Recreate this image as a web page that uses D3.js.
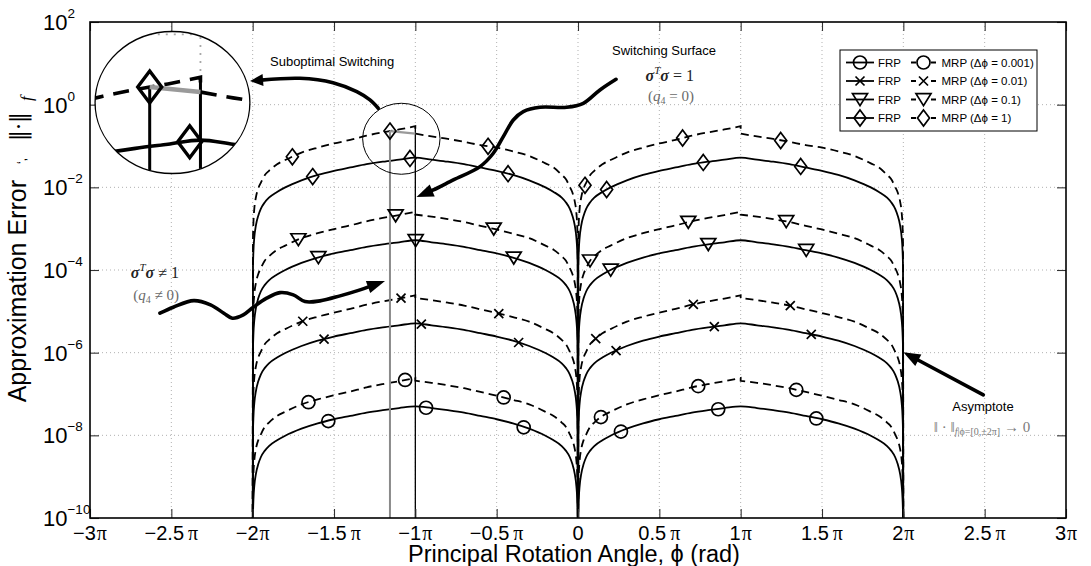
<!DOCTYPE html>
<html>
<head>
<meta charset="utf-8">
<script src="https://cdn.jsdelivr.net/npm/d3@7"></script>
<style>
  body { margin: 0; background: #fff; }
  svg { display: block; font-family: "Liberation Sans", Arial, Helvetica, sans-serif; }
</style>
</head>
<body>
<svg id="chart" width="1091" height="566"></svg>
<script>
// ---- axis ticks (phi in multiples of pi) ----
const xTicks = [-3, -2.5, -2, -1.5, -1, -0.5, 0, 0.5, 1, 1.5, 2, 2.5, 3];
const xTickLabels = ["−3", "−2.5", "−2", "−1.5", "−1", "−0.5", "0", "0.5", "1", "1.5", "2", "2.5", "3"];
const yTicks = [1e2, 1e0, 1e-2, 1e-4, 1e-6, 1e-8, 1e-10];
const yTickExps = ["2", "0", "−2", "−4", "−6", "−8", "−10"];

// start of each 2*pi period that carries data
const periodStarts = [-2, 0];

// ---- FRP error over one period, phase in multiples of pi ----
const phaseFull = [0, 0.002, 0.005, 0.01, 0.02, 0.035, 0.05, 0.075, 0.1, 0.15, 0.2, 0.3, 0.4, 0.5, 0.6, 0.7, 0.8, 0.9, 1.0,
  1.1, 1.2, 1.3, 1.4, 1.5, 1.6, 1.7, 1.8, 1.85, 1.9, 1.925, 1.95, 1.965, 1.98, 1.99, 1.995, 1.998, 2.0];
const frp1 = [1e-13, 1.20e-4, 3.02e-4, 6.03e-4, 1.20e-3, 2.09e-3, 3.02e-3, 4.37e-3, 5.62e-3, 7.76e-3, 1.00e-2, 1.48e-2, 2.00e-2, 2.51e-2, 3.02e-2, 3.63e-2, 4.17e-2, 4.68e-2, 5.25e-2,
  4.68e-2, 4.17e-2, 3.63e-2, 3.02e-2, 2.51e-2, 2.00e-2, 1.48e-2, 1.00e-2, 7.76e-3, 5.62e-3, 4.37e-3, 3.02e-3, 2.09e-3, 1.20e-3, 6.03e-4, 3.02e-4, 1.20e-4, 1e-13];
const frp01 = [1e-13, 1.20e-6, 3.02e-6, 6.03e-6, 1.20e-5, 2.09e-5, 3.02e-5, 4.37e-5, 5.62e-5, 7.76e-5, 1.00e-4, 1.48e-4, 2.00e-4, 2.51e-4, 3.02e-4, 3.63e-4, 4.17e-4, 4.68e-4, 5.25e-4,
  4.68e-4, 4.17e-4, 3.63e-4, 3.02e-4, 2.51e-4, 2.00e-4, 1.48e-4, 1.00e-4, 7.76e-5, 5.62e-5, 4.37e-5, 3.02e-5, 2.09e-5, 1.20e-5, 6.03e-6, 3.02e-6, 1.20e-6, 1e-13];
const frp001 = [1e-13, 1.18e-8, 2.96e-8, 5.90e-8, 1.18e-7, 2.05e-7, 2.96e-7, 4.28e-7, 5.50e-7, 7.60e-7, 9.80e-7, 1.45e-6, 1.96e-6, 2.46e-6, 2.96e-6, 3.56e-6, 4.09e-6, 4.59e-6, 5.13e-6,
  4.59e-6, 4.09e-6, 3.56e-6, 2.96e-6, 2.46e-6, 1.96e-6, 1.45e-6, 9.80e-7, 7.60e-7, 5.50e-7, 4.28e-7, 2.96e-7, 2.05e-7, 1.18e-7, 5.90e-8, 2.96e-8, 1.18e-8, 1e-13];
const frp0001 = [1e-13, 1.17e-10, 2.95e-10, 5.90e-10, 1.17e-9, 2.04e-9, 2.95e-9, 4.27e-9, 5.50e-9, 7.60e-9, 9.80e-9, 1.45e-8, 1.95e-8, 2.45e-8, 2.95e-8, 3.55e-8, 4.07e-8, 4.57e-8, 5.01e-8,
  4.57e-8, 4.07e-8, 3.55e-8, 2.95e-8, 2.45e-8, 1.95e-8, 1.45e-8, 9.80e-9, 7.60e-9, 5.50e-9, 4.27e-9, 2.95e-9, 2.04e-9, 1.17e-9, 5.90e-10, 2.95e-10, 1.17e-10, 1e-13];

// ---- MRP error: rising branch up to the switching surface, falling branch after it ----
const phaseRise = [0, 0.002, 0.005, 0.01, 0.02, 0.035, 0.05, 0.075, 0.1, 0.15, 0.2, 0.3, 0.4, 0.5, 0.6, 0.7, 0.8, 0.9, 1.0];
const phaseFall = [1.0, 1.1, 1.2, 1.3, 1.4, 1.5, 1.6, 1.7, 1.8, 1.85, 1.9, 1.925, 1.95, 1.965, 1.98, 1.99, 1.995, 1.998, 2.0];
const mrp1Rise = [1e-13, 6.03e-4, 1.51e-3, 3.02e-3, 5.75e-3, 9.55e-3, 1.29e-2, 2.00e-2, 2.51e-2, 3.63e-2, 4.57e-2, 6.92e-2, 9.12e-2, 1.15e-1, 1.41e-1, 1.78e-1, 2.14e-1, 2.51e-1, 3.02e-1];
const mrp1Fall = [2.00e-1, 1.70e-1, 1.48e-1, 1.26e-1, 1.05e-1, 9.12e-2, 7.41e-2, 5.75e-2, 3.80e-2, 3.02e-2, 2.00e-2, 1.58e-2, 1.02e-2, 7.59e-3, 4.57e-3, 2.40e-3, 1.20e-3, 4.79e-4, 1e-13];
const mrp01Rise = [1e-13, 5.13e-6, 1.29e-5, 2.57e-5, 4.90e-5, 8.13e-5, 1.10e-4, 1.70e-4, 2.14e-4, 3.09e-4, 3.89e-4, 5.89e-4, 7.76e-4, 9.77e-4, 1.20e-3, 1.51e-3, 1.82e-3, 2.14e-3, 2.57e-3];
const mrp01Fall = [2.19e-3, 1.95e-3, 1.70e-3, 1.45e-3, 1.17e-3, 9.55e-4, 7.59e-4, 5.89e-4, 3.89e-4, 3.09e-4, 2.14e-4, 1.70e-4, 1.10e-4, 8.13e-5, 4.90e-5, 2.57e-5, 1.29e-5, 5.13e-6, 1e-13];
const mrp001Rise = [1e-13, 4.90e-8, 1.23e-7, 2.45e-7, 4.68e-7, 7.76e-7, 1.05e-6, 1.62e-6, 2.04e-6, 2.95e-6, 3.72e-6, 5.62e-6, 7.41e-6, 9.33e-6, 1.15e-5, 1.45e-5, 1.74e-5, 2.04e-5, 2.45e-5];
const mrp001Fall = [2.09e-5, 1.86e-5, 1.62e-5, 1.38e-5, 1.12e-5, 9.12e-6, 7.24e-6, 5.62e-6, 3.72e-6, 2.95e-6, 2.04e-6, 1.62e-6, 1.05e-6, 7.76e-7, 4.68e-7, 2.45e-7, 1.23e-7, 4.90e-8, 1e-13];
const mrp0001Rise = [1e-13, 4.90e-10, 1.23e-9, 2.45e-9, 4.68e-9, 7.76e-9, 1.05e-8, 1.62e-8, 2.04e-8, 2.95e-8, 3.72e-8, 5.62e-8, 7.41e-8, 9.33e-8, 1.15e-7, 1.45e-7, 1.74e-7, 2.04e-7, 2.45e-7];
const mrp0001Fall = [2.09e-7, 1.86e-7, 1.62e-7, 1.38e-7, 1.12e-7, 9.12e-8, 7.24e-8, 5.62e-8, 3.72e-8, 2.95e-8, 2.04e-8, 1.62e-8, 1.05e-8, 7.76e-9, 4.68e-9, 2.45e-9, 1.23e-9, 4.90e-10, 1e-13];

// ---- marker samples (phi in multiples of pi) ----
const frp1MarkPhi = [-1.631, -1.033, -0.430, 0.176, 0.770, 1.369];
const frp1MarkVal = [1.82e-2, 5.01e-2, 2.14e-2, 8.85e-3, 4.00e-2, 3.20e-2];
const frp01MarkPhi = [-1.596, -0.998, -0.395, 0.201, 0.801, 1.403];
const frp01MarkVal = [2.01e-4, 5.20e-4, 1.97e-4, 1.00e-4, 4.17e-4, 3.01e-4];
const frp001MarkPhi = [-1.561, -0.963, -0.365, 0.234, 0.838, 1.434];
const frp001MarkVal = [2.13e-6, 4.91e-6, 1.76e-6, 1.12e-6, 4.26e-6, 2.77e-6];
const frp0001MarkPhi = [-1.535, -0.934, -0.334, 0.264, 0.862, 1.465];
const frp0001MarkVal = [2.21e-8, 4.65e-8, 1.56e-8, 1.23e-8, 4.28e-8, 2.56e-8];
const mrp1MarkPhi = [-1.756, -1.156, -0.553, 0.043, 0.643, 1.246];
const mrp1MarkVal = [5.48e-2, 2.30e-1, 9.82e-2, 1.12e-2, 1.56e-1, 1.36e-1];
const mrp01MarkPhi = [-1.719, -1.121, -0.518, 0.074, 0.678, 1.280];
const mrp01MarkVal = [5.45e-4, 2.07e-3, 9.91e-4, 1.67e-4, 1.44e-3, 1.49e-3];
const mrp001MarkPhi = [-1.692, -1.088, -0.487, 0.109, 0.709, 1.305];
const mrp001MarkVal = [5.75e-6, 2.09e-5, 8.85e-6, 2.18e-6, 1.47e-5, 1.37e-5];
const mrp0001MarkPhi = [-1.657, -1.063, -0.457, 0.141, 0.739, 1.342];
const mrp0001MarkVal = [6.34e-8, 2.19e-7, 8.26e-8, 2.76e-8, 1.55e-7, 1.26e-7];

// ---- switching annotation (MRP, delta phi = 1) ----
const switchEarlyPhi = -1.156, switchEarlyVal = 2.30e-1;   // where the switch actually happened
const switchSurfPhi = -1, switchSurfTop = 3.02e-1, switchSurfAfter = 2.00e-1;

// ---- legend text ----
const deltaLabels = ["0.001", "0.01", "0.1", "1"];
const legendShapes = ["circle", "cross", "triangle", "diamond"];

// ---- annotation paths: [phi/pi, log10 error] ----
const arrowInset = [[-1.228, -0.087], [-1.279, 0.114], [-1.360, 0.314], [-1.506, 0.532], [-1.709, 0.638], [-1.936, 0.597], [-2.016, 0.573]];
const arrowSurface = [[0.2336, 0.614], [0.135, 0.356], [0.0326, 0.034], [-0.0695, -0.063], [-0.2336, -0.063], [-0.3363, -0.169],
  [-0.3977, -0.370], [-0.4592, -0.774], [-0.5207, -1.175], [-0.6024, -1.499], [-0.7666, -1.821], [-0.8895, -2.063], [-0.9928, -2.232]];
const arrowOffSurface = [[-2.570, -5.045], [-2.488, -4.900], [-2.3615, -4.740], [-2.259, -4.844], [-2.177, -5.045], [-2.1252, -5.166],
  [-2.0576, -5.086], [-1.996, -4.900], [-1.914, -4.682], [-1.832, -4.547], [-1.750, -4.602], [-1.678, -4.764], [-1.586, -4.747],
  [-1.463, -4.626], [-1.340, -4.481], [-1.1865, -4.264]];
const arrowAsymptote = [[2.4916, -7.021], [2.0, -5.988]];
const zoomSpot = [-1.086, -0.825];   // centre of the magnified region
const zoomInset = [-2.493, 0.053];   // centre of the magnified view
const zoomFactor = 2;

// ================= drawing =================
const plot = { left: 90, right: 1066, top: 22, bottom: 518 };
const x = d3.scaleLinear().domain([-3, 3]).range([plot.left, plot.right]);
const y = d3.scaleLog().domain([1e-10, 1e2]).range([plot.bottom, plot.top]);

const svg = d3.select("#chart");
const defs = svg.append("defs");
defs.append("clipPath").attr("id", "plotClip")
  .append("rect").attr("x", plot.left).attr("y", plot.top)
  .attr("width", plot.right - plot.left).attr("height", plot.bottom - plot.top);

const spot = [x(zoomSpot[0]), y(10 ** zoomSpot[1])];
const insetC = [x(zoomInset[0]), y(10 ** zoomInset[1])];
const spotRx = 38.7, spotRy = 35.5;
defs.append("clipPath").attr("id", "spotClip")
  .append("ellipse").attr("cx", spot[0]).attr("cy", spot[1]).attr("rx", spotRx).attr("ry", spotRy);

function drawGrid(g) {
  g.selectAll("line.gx").data(xTicks.slice(1, -1)).join("line").attr("class", "gx")
    .attr("x1", d => x(d)).attr("x2", d => x(d)).attr("y1", plot.top).attr("y2", plot.bottom);
  g.selectAll("line.gy").data(yTicks.slice(1, -1)).join("line").attr("class", "gy")
    .attr("x1", plot.left).attr("x2", plot.right).attr("y1", d => y(d)).attr("y2", d => y(d));
  g.selectAll("line").attr("stroke", "#a8a8a8").attr("stroke-width", 0.9).attr("stroke-dasharray", "1,3");
}

function markerShape(sel, shape) {
  if (shape === "circle") sel.append("circle").attr("r", 6.5);
  else if (shape === "cross") sel.append("path").attr("d", "M-4.5,-4.5L4.5,4.5M-4.5,4.5L4.5,-4.5");
  else if (shape === "triangle") sel.append("path").attr("d", "M-7.5,-5.8L7.5,-5.8L0,6.2Z");
  else sel.append("path").attr("d", "M0,-8L6,0L0,8L-6,0Z");
}

const frpSeries = [
  { vals: frp0001, shape: "circle", mPhi: frp0001MarkPhi, mVal: frp0001MarkVal },
  { vals: frp001, shape: "cross", mPhi: frp001MarkPhi, mVal: frp001MarkVal },
  { vals: frp01, shape: "triangle", mPhi: frp01MarkPhi, mVal: frp01MarkVal },
  { vals: frp1, shape: "diamond", mPhi: frp1MarkPhi, mVal: frp1MarkVal }
];
const mrpSeries = [
  { rise: mrp0001Rise, fall: mrp0001Fall, shape: "circle", mPhi: mrp0001MarkPhi, mVal: mrp0001MarkVal },
  { rise: mrp001Rise, fall: mrp001Fall, shape: "cross", mPhi: mrp001MarkPhi, mVal: mrp001MarkVal },
  { rise: mrp01Rise, fall: mrp01Fall, shape: "triangle", mPhi: mrp01MarkPhi, mVal: mrp01MarkVal },
  { rise: mrp1Rise, fall: mrp1Fall, shape: "diamond", mPhi: mrp1MarkPhi, mVal: mrp1MarkVal }
];

const curve = d3.line().x(d => x(d[0])).y(d => y(d[1])).curve(d3.curveMonotoneX);

function drawData(g, magnified) {
  frpSeries.forEach(s => {
    periodStarts.forEach(p0 => {
      g.append("path").attr("d", curve(phaseFull.map((p, i) => [p0 + p, s.vals[i]])))
        .attr("fill", "none").attr("stroke", "#000").attr("stroke-width", 1.8);
    });
  });
  mrpSeries.forEach(s => {
    periodStarts.forEach(p0 => {
      const a = curve(phaseRise.map((p, i) => [p0 + p, s.rise[i]]));
      const b = curve(phaseFall.map((p, i) => [p0 + p, s.fall[i]]));
      g.append("path").attr("d", a + b.replace(/^M/, "L"))
        .attr("fill", "none").attr("stroke", "#000").attr("stroke-width", 1.8)
        .attr("stroke-dasharray", "8,5");
    });
  });
  // switching lines
  g.append("line").attr("x1", x(switchEarlyPhi)).attr("x2", x(switchEarlyPhi))
    .attr("y1", y(1e-10)).attr("y2", y(switchEarlyVal))
    .attr("stroke", magnified ? "#000" : "#8a8a8a").attr("stroke-width", magnified ? 1.5 : 2);
  g.append("line").attr("x1", x(switchSurfPhi)).attr("x2", x(switchSurfPhi))
    .attr("y1", y(1e-10)).attr("y2", y(switchSurfTop))
    .attr("stroke", "#000").attr("stroke-width", magnified ? 1.5 : 1.3);
  g.append("line").attr("x1", x(switchEarlyPhi)).attr("x2", x(switchSurfPhi))
    .attr("y1", y(switchEarlyVal)).attr("y2", y(switchSurfAfter))
    .attr("stroke", "#9a9a9a").attr("stroke-width", 2.2);
  // markers
  frpSeries.concat(mrpSeries).forEach(s => {
    s.mPhi.forEach((p, i) => {
      const m = g.append("g").attr("transform", `translate(${x(p)},${y(s.mVal[i])})`)
        .attr("fill", "none").attr("stroke", "#000").attr("stroke-width", 1.7);
      markerShape(m, s.shape);
    });
  });
}

// grid + data
drawGrid(svg.append("g").attr("clip-path", "url(#plotClip)"));
drawData(svg.append("g").attr("clip-path", "url(#plotClip)"), false);

// axes box with inward ticks
const tk = 9;
const axB = svg.append("g").attr("transform", `translate(0,${plot.bottom})`)
  .call(d3.axisBottom(x).tickValues(xTicks).tickSize(-tk).tickSizeOuter(0).tickFormat(""));
const axT = svg.append("g").attr("transform", `translate(0,${plot.top})`)
  .call(d3.axisTop(x).tickValues(xTicks).tickSize(-tk).tickSizeOuter(0).tickFormat(""));
const axL = svg.append("g").attr("transform", `translate(${plot.left},0)`)
  .call(d3.axisLeft(y).tickValues(yTicks).tickSize(-tk).tickSizeOuter(0).tickFormat(""));
const axR = svg.append("g").attr("transform", `translate(${plot.right},0)`)
  .call(d3.axisRight(y).tickValues(yTicks).tickSize(-tk).tickSizeOuter(0).tickFormat(""));
[axB, axT, axL, axR].forEach(a => {
  a.select(".domain").remove();
  a.selectAll(".tick line").attr("stroke", "#333").attr("stroke-width", 1.1);
});
svg.append("rect").attr("x", plot.left).attr("y", plot.top)
  .attr("width", plot.right - plot.left).attr("height", plot.bottom - plot.top)
  .attr("fill", "none").attr("stroke", "#000").attr("stroke-width", 1.6);

// tick labels
const xl = svg.append("g").attr("font-size", 20).attr("fill", "#000");
xTicks.forEach((t, i) => {
  const tx = xl.append("text").attr("x", x(t)).attr("y", 540).attr("text-anchor", "middle");
  tx.append("tspan").text(xTickLabels[i]);
  if (t !== 0) tx.append("tspan").attr("font-family", "'Liberation Serif', serif")
    .attr("dx", (t % 1 !== 0) ? 4 : 1).text("π");
});
const yl = svg.append("g").attr("fill", "#000");
yTicks.forEach((t, i) => {
  const tx = yl.append("text").attr("x", 43).attr("y", y(t) + 8).attr("font-size", 22);
  tx.append("tspan").text("10");
  tx.append("tspan").attr("font-size", 13.5).attr("dy", -12).text(yTickExps[i]);
});

// axis titles
svg.append("text").attr("x", 574).attr("y", 562).attr("text-anchor", "middle")
  .attr("font-size", 23.5).text("Principal Rotation Angle, ϕ (rad)");
svg.append("text").attr("transform", "translate(26,180) rotate(-90)").attr("text-anchor", "end")
  .attr("font-size", 25).text("Approximation Error");
svg.append("text").attr("transform", "translate(26,164) rotate(-90)").attr("font-size", 12).text("‘,");
svg.append("text").attr("transform", "translate(26,141) rotate(-90)").attr("font-size", 22)
  .attr("font-family", "'DejaVu Serif', serif").text("‖·‖");
svg.append("text").attr("transform", "translate(32,101) rotate(-90)").attr("font-size", 17)
  .attr("font-family", "'Liberation Serif', serif").attr("font-style", "italic").text("f");

// legend
const lg = svg.append("g");
const lgBox = { x: 840, y: 50, w: 197, h: 81 };
lg.append("rect").attr("x", lgBox.x).attr("y", lgBox.y).attr("width", lgBox.w).attr("height", lgBox.h)
  .attr("fill", "#fff").attr("stroke", "#000").attr("stroke-width", 1);
deltaLabels.forEach((lab, i) => {
  const cy = lgBox.y + 12.5 + i * 18.5;
  lg.append("line").attr("x1", 846).attr("x2", 874).attr("y1", cy).attr("y2", cy)
    .attr("stroke", "#000").attr("stroke-width", 1.8);
  markerShape(lg.append("g").attr("transform", `translate(860,${cy})`)
    .attr("fill", "none").attr("stroke", "#000").attr("stroke-width", 1.7), legendShapes[i]);
  lg.append("text").attr("x", 878).attr("y", cy + 4.2).attr("font-size", 11.5).text("FRP");
  lg.append("line").attr("x1", 911).attr("x2", 936).attr("y1", cy).attr("y2", cy)
    .attr("stroke", "#000").attr("stroke-width", 1.8).attr("stroke-dasharray", "5,15,5");
  markerShape(lg.append("g").attr("transform", `translate(923.5,${cy})`)
    .attr("fill", "none").attr("stroke", "#000").attr("stroke-width", 1.7), legendShapes[i]);
  lg.append("text").attr("x", 941.5).attr("y", cy + 4.2).attr("font-size", 11.5)
    .text(`MRP (Δϕ = ${lab})`);
});

// magnified region + inset
svg.append("ellipse").attr("cx", spot[0]).attr("cy", spot[1]).attr("rx", spotRx).attr("ry", spotRy)
  .attr("fill", "none").attr("stroke", "#000").attr("stroke-width", 1);
svg.append("ellipse").attr("cx", insetC[0]).attr("cy", insetC[1])
  .attr("rx", spotRx * zoomFactor).attr("ry", spotRy * zoomFactor).attr("fill", "#fff");
const inset = svg.append("g")
  .attr("transform", `translate(${insetC[0]},${insetC[1]}) scale(${zoomFactor}) translate(${-spot[0]},${-spot[1]})`)
  .attr("clip-path", "url(#spotClip)");
drawGrid(inset.append("g"));
drawData(inset.append("g"), true);
svg.append("ellipse").attr("cx", insetC[0]).attr("cy", insetC[1])
  .attr("rx", spotRx * zoomFactor).attr("ry", spotRy * zoomFactor)
  .attr("fill", "none").attr("stroke", "#000").attr("stroke-width", 1.3);

// annotation arrows
const ann = svg.append("g");
function arrow(points, headLen, headHalf, width) {
  const pts = points.map(p => [x(p[0]), y(10 ** p[1])]);
  const tip = pts[pts.length - 1], prev = pts[pts.length - 2];
  const ang = Math.atan2(tip[1] - prev[1], tip[0] - prev[0]);
  const base = [tip[0] - headLen * Math.cos(ang), tip[1] - headLen * Math.sin(ang)];
  const shaft = pts.slice(0, -1).filter(p => Math.hypot(p[0] - tip[0], p[1] - tip[1]) > headLen + 1);
  shaft.push([base[0] + Math.cos(ang) * 2, base[1] + Math.sin(ang) * 2]);
  ann.append("path").attr("d", d3.line().curve(d3.curveCatmullRom.alpha(0.5))(shaft))
    .attr("fill", "none").attr("stroke", "#000").attr("stroke-width", width).attr("stroke-linecap", "round");
  const nx = -Math.sin(ang), ny = Math.cos(ang);
  ann.append("path").attr("d",
    `M${tip[0]},${tip[1]}L${base[0] + nx * headHalf},${base[1] + ny * headHalf}L${base[0] - nx * headHalf},${base[1] - ny * headHalf}Z`)
    .attr("fill", "#000");
}
arrow(arrowInset, 13, 6, 3.6);
arrow(arrowSurface, 17, 6.5, 3.6);
arrow(arrowOffSurface, 18, 6.5, 3.6);
arrow(arrowAsymptote, 17, 6.5, 3.6);

// annotation text
const serif = "'Liberation Serif', 'DejaVu Serif', serif";
ann.append("text").attr("x", 270).attr("y", 66).attr("font-size", 13).text("Suboptimal Switching");
ann.append("text").attr("x", 612).attr("y", 54.5).attr("font-size", 13).text("Switching Surface");
ann.append("text").attr("x", 983).attr("y", 411).attr("text-anchor", "middle").attr("font-size", 13).text("Asymptote");

function sigmaLabel(xEnd, yBase, rel) {
  const t = ann.append("text").attr("x", xEnd).attr("y", yBase).attr("text-anchor", "end")
    .attr("font-family", serif).attr("font-size", 16).attr("fill", "#222");
  t.append("tspan").attr("font-weight", "bold").attr("font-style", "italic").text("σ");
  t.append("tspan").attr("font-style", "italic").attr("font-size", 11).attr("dy", -7).text("T");
  t.append("tspan").attr("font-weight", "bold").attr("font-style", "italic").attr("dy", 7).text("σ");
  t.append("tspan").text(` ${rel} 1`);
}
function qLabel(xEnd, yBase, rel) {
  const t = ann.append("text").attr("x", xEnd).attr("y", yBase).attr("text-anchor", "end")
    .attr("font-family", serif).attr("font-size", 15).attr("fill", "#6a6a6a");
  t.append("tspan").text("(");
  t.append("tspan").attr("font-style", "italic").text("q");
  t.append("tspan").attr("font-size", 10).attr("dy", 3).text("4");
  t.append("tspan").attr("dy", -3).text(` ${rel} 0)`);
}
sigmaLabel(694, 81, "=");
qLabel(694, 101, "=");
sigmaLabel(179, 278, "≠");
qLabel(179, 300, "≠");

const asy = ann.append("text").attr("x", 982).attr("y", 432).attr("text-anchor", "middle")
  .attr("font-family", serif).attr("font-size", 15).attr("fill", "#7a7a7a");
asy.append("tspan").text("‖ · ‖");
asy.append("tspan").attr("font-size", 10).attr("dy", 3).attr("font-style", "italic").text("f");
asy.append("tspan").attr("font-size", 10).attr("font-style", "normal").text("|ϕ=[0,±2π]");
asy.append("tspan").attr("dy", -3).text(" → 0");
</script>
</body>
</html>
